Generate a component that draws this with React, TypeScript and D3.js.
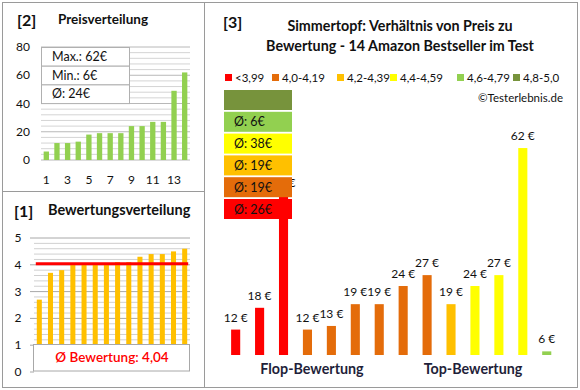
import React from "react";
import * as d3 from "d3";

// price distribution, sorted (panel 2)
const prices = [6, 12, 12, 13, 18, 19, 19, 19, 24, 24, 27, 27, 49, 62];
const priceStats = ["Max.: 62€", "Min.: 6€", "Ø: 24€"];
const priceTicks = [0, 20, 40, 60, 80];

// rating distribution, sorted (panel 1)
const ratings = [2.7, 3.7, 3.8, 4.0, 4.0, 4.0, 4.0, 4.1, 4.1, 4.3, 4.4, 4.4, 4.5, 4.6];
const avgRating = 4.04;
const ratingTicks = [0, 1, 2, 3, 4, 5];

// panel 3: price of each product, grouped by rating class
const productPrices = [12, 18, 49, 12, 13, 19, 19, 24, 27, 19, 24, 27, 62, 6];
const productClass = [0, 0, 0, 1, 1, 1, 1, 1, 1, 2, 3, 3, 3, 4];
const classLabels = ["<3,99", "4,0-4,19", "4,2-4,39", "4,4-4,59", "4,6-4,79", "4,8-5,0"];
const classColors = ["#ff0000", "#e46c0a", "#ffc000", "#ffff00", "#92d050", "#77933c"];
const classAverages = ["26", "19", "19", "38", "6", ""];

const font = "Lato, 'Open Sans', sans-serif";
const txt = "#111";

function PricePanel() {
  const x = d3.scaleBand<number>().domain(d3.range(prices.length)).range([41, 190]).paddingInner(0.5).paddingOuter(0.25);
  const y = d3.scaleLinear().domain([0, 80]).range([160, 47]);
  const minor = d3.range(0, 81, 4);
  return (
    <g>
      <text x={17} y={26} fontSize={16} fontWeight="bold" fill={txt}>[2]</text>
      <text x={58} y={24} fontSize={13.5} fontWeight="bold" fill={txt}>Preisverteilung</text>
      {minor.map((t) => (
        <line key={t} x1={41} x2={190} y1={y(t)} y2={y(t)} stroke={t % 20 === 0 ? "#b8b8b8" : "#d4d4d4"} />
      ))}
      {priceTicks.map((t) => (
        <text key={t} x={30} y={y(t) + 4} fontSize={12} textAnchor="end" fill={txt}>{t}</text>
      ))}
      {prices.map((p, i) => (
        <rect key={i} x={x(i)} y={y(p)} width={x.bandwidth()} height={y(0) - y(p)} fill="#92d050" />
      ))}
      {prices.map((p, i) =>
        i % 2 === 0 ? (
          <text key={i} x={(x(i) ?? 0) + x.bandwidth() / 2} y={184} fontSize={12} textAnchor="middle" fill={txt}>{i + 1}</text>
        ) : null
      )}
      {priceStats.map((s, i) => (
        <g key={s}>
          <rect x={41.5} y={47.5 + i * 18.7} width={88} height={18.7} fill="#fff" stroke="#b0b0b0" />
          <text x={52} y={61 + i * 18.7} fontSize={12.5} fill={txt}>{s}</text>
        </g>
      ))}
    </g>
  );
}

function RatingPanel() {
  const x = d3.scaleBand<number>().domain(d3.range(ratings.length)).range([34, 190]).paddingInner(0.55).paddingOuter(0.25);
  const y = d3.scaleLinear().domain([0, 5]).range([372, 238]);
  const minor = d3.range(10, 51, 2).map((v) => v / 10);
  return (
    <g>
      <text x={14} y={217} fontSize={16} fontWeight="bold" fill={txt}>[1]</text>
      <text x={48} y={215} fontSize={14.5} fontWeight="bold" fill={txt}>Bewertungsverteilung</text>
      {minor.map((t) => (
        <line key={t} x1={34} x2={190} y1={y(t)} y2={y(t)} stroke={Number.isInteger(t) ? "#a8a8a8" : "#d0d0d0"} />
      ))}
      {ratingTicks.map((t) => (
        <g key={t}>
          <line x1={30} x2={34} y1={y(t)} y2={y(t)} stroke="#a8a8a8" />
          <text x={18} y={y(t) + 4} fontSize={12} textAnchor="middle" fill={txt}>{t}</text>
        </g>
      ))}
      {ratings.map((r, i) => (
        <rect key={i} x={x(i)} y={y(r)} width={x.bandwidth()} height={y(1) - y(r)} fill="#ffc000" />
      ))}
      <line x1={(x(0) ?? 0) - 1} x2={(x(ratings.length - 1) ?? 0) + x.bandwidth() + 1} y1={y(avgRating)} y2={y(avgRating)} stroke="#ff0000" strokeWidth={3} />
      <rect x={33.5} y={344.5} width={156} height={26.5} fill="#fff" stroke="#a8a8a8" />
      <text x={112} y={362} fontSize={13.5} fontWeight={600} textAnchor="middle" fill="#ff0000">
        Ø Bewertung: {avgRating.toFixed(2).replace(".", ",")}
      </text>
    </g>
  );
}

function RelationPanel() {
  const x = d3.scaleBand<number>().domain(d3.range(productPrices.length)).range([223.7, 558.7]).paddingInner(0.62).paddingOuter(0.31);
  const y = d3.scaleLinear().domain([5, 70]).range([355, 119]);
  const legendX = [225, 272, 337, 390, 457, 513];
  const boxes = d3.range(classLabels.length).reverse();
  return (
    <g>
      <text x={223} y={28} fontSize={16} fontWeight="bold" fill={txt}>[3]</text>
      <text x={400} y={31} fontSize={14.3} fontWeight="bold" textAnchor="middle" fill={txt}>Simmertopf: Verhältnis von Preis zu</text>
      <text x={400} y={51} fontSize={14.3} fontWeight="bold" textAnchor="middle" fill={txt}>Bewertung - 14 Amazon Bestseller im Test</text>
      {classLabels.map((c, i) => (
        <g key={c}>
          <rect x={legendX[i]} y={74} width={7} height={7} fill={classColors[i]} />
          <text x={legendX[i] + 10} y={81.5} fontSize={11.5} fill={txt}>{c}</text>
        </g>
      ))}
      <text x={563} y={102} fontSize={11.5} textAnchor="end" fill={txt}>©Testerlebnis.de</text>
      {productPrices.map((p, i) => (
        <g key={i}>
          <rect x={x(i)} y={y(p)} width={x.bandwidth()} height={y(5) - y(p)} fill={classColors[productClass[i]]} />
          <text x={(x(i) ?? 0) + x.bandwidth() / 2} y={y(p) - 8} fontSize={12} textAnchor="middle" fill={txt}>{p} €</text>
        </g>
      ))}
      {boxes.map((c, k) => (
        <g key={c}>
          <rect x={224} y={90 + k * 21.8} width={68} height={20} fill={classColors[c]} />
          {classAverages[c] ? (
            <text x={234} y={104.5 + k * 21.8} fontSize={12.5} fill={txt}>Ø: {classAverages[c]}€</text>
          ) : null}
        </g>
      ))}
      <text x={312} y={374} fontSize={14.3} fontWeight="bold" textAnchor="middle" fill="#1f1f3a">Flop-Bewertung</text>
      <text x={473} y={374} fontSize={14.3} fontWeight="bold" textAnchor="middle" fill="#1f1f3a">Top-Bewertung</text>
    </g>
  );
}

export default function App() {
  return (
    <svg width={580} height={390} style={{ position: "absolute", left: 0, top: 0, background: "#fff" }} fontFamily={font}>
      <rect x={0} y={0} width={580} height={390} fill="#fff" />
      <rect x={2.5} y={2.5} width={575} height={385} fill="none" stroke="#9a9a9a" />
      <line x1={204.5} x2={204.5} y1={2.5} y2={387.5} stroke="#9a9a9a" />
      <line x1={2.5} x2={204.5} y1={191.5} y2={191.5} stroke="#9a9a9a" />
      <PricePanel />
      <RatingPanel />
      <RelationPanel />
    </svg>
  );
}
